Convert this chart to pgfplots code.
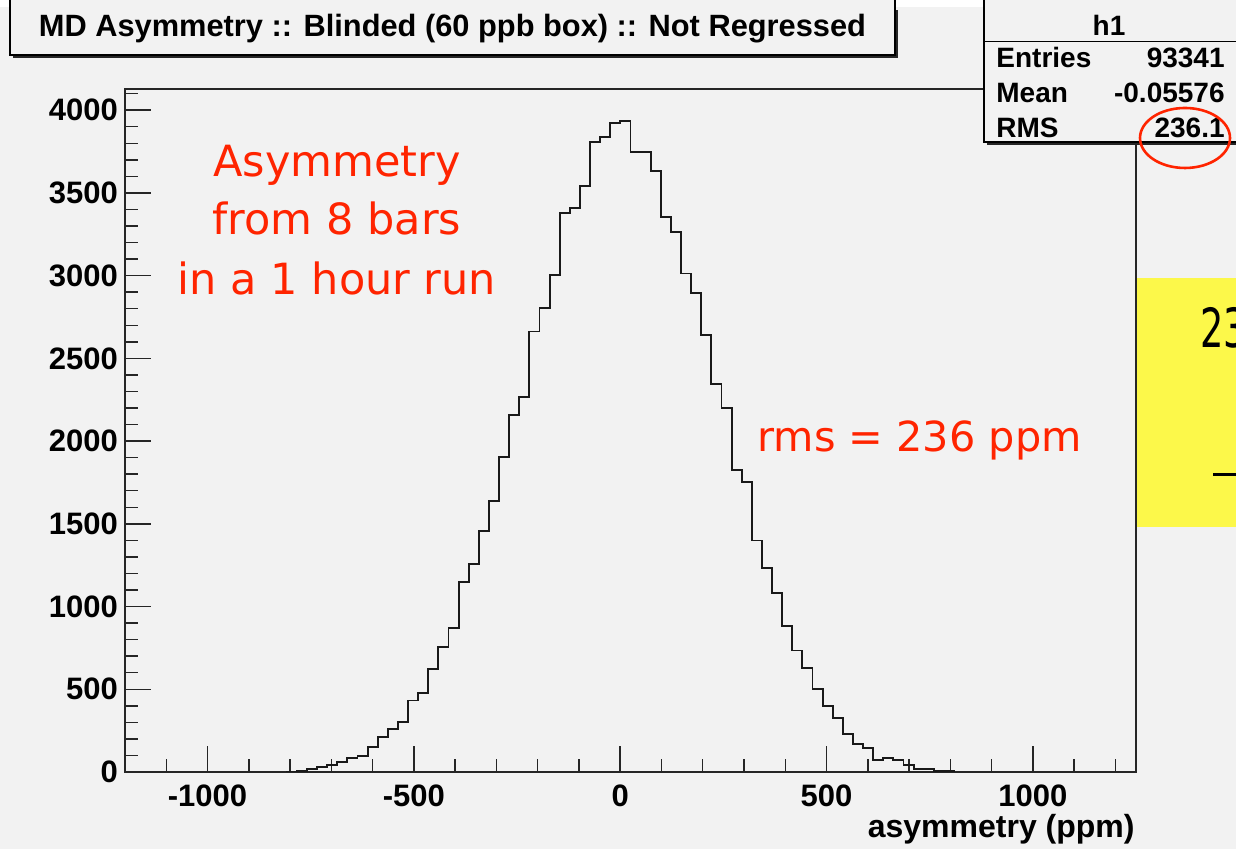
\documentclass[border=0pt]{standalone}
\usepackage{pgfplots}
\pgfplotsset{compat=1.18}
\usepackage{pgfplotstable}
\usepackage{fontspec}
\setmainfont{Liberation Sans}
\newfontfamily\hand{DejaVu Sans}
\definecolor{bg}{RGB}{242,242,242}
\definecolor{annred}{RGB}{255,36,0}
\definecolor{ylw}{RGB}{252,248,74}

\pgfplotstableread{
x y
-808 0
-808 3
-783.5 4
-759 16
-734.5 28
-710 40
-685.5 60
-661 85
-636.5 95
-612 149
-587.5 214
-563 258
-538.5 300
-514 432
-489.5 476
-465 621
-440.5 754
-416 873
-391.5 1147
-367 1256
-342.5 1457
-318 1640
-293.5 1903
-269 2158
-244.5 2269
-220 2662
-195.5 2803
-171 3005
-146.5 3376
-122 3408
-97.5 3539
-73 3805
-48.5 3837
-24 3924
0.5 3934
25 3747
49.5 3747
74 3630
98.5 3354
123 3263
147.5 3013
172 2896
196.5 2640
221 2344
245.5 2199
270 1826
294.5 1751
319 1399
343.5 1231
368 1080
392.5 883
417 734
441.5 631
466 500
490.5 401
515 325
539.5 228
564 171
588.5 147
613 73
637.5 83
662 73
686.5 44
711 16
735.5 16
760 5
784.5 4
809 0
}\hist

\begin{document}
\begin{tikzpicture}
\useasboundingbox (0,0) rectangle (618pt,424.5pt);
\begin{scope}[x=0.5pt,y=-0.5pt,yshift=424.5pt]
\fill[bg] (0,0) rectangle (1236,849);
\fill[white] (0,0) rectangle (1236,7);
% title box
\fill[black!85] (13,10) rectangle (898,58);
\filldraw[fill=bg, draw=black, line width=0.6pt] (10,-5) rectangle (895,55);
\node[font=\bfseries\fontsize{15.4}{18}\selectfont] at (452.5,29) {MD Asymmetry :: Blinded (60 ppb box) :: Not Regressed};
\end{scope}

\begin{axis}[
  at={(62.5pt,38.5pt)}, anchor=south west,
  scale only axis, width=505.5pt, height=341.5pt,
  xmin=-1200, xmax=1250, ymin=0, ymax=4128,
  xtick={-1000,-500,0,500,1000},
  ytick={0,500,1000,1500,2000,2500,3000,3500,4000},
  minor xtick={-1200,-1100,...,1200},
  minor ytick={0,100,...,4100},
  tick align=inside, tick pos=left,
  major tick length=13pt, minor tick length=6.5pt,
  axis line style={line width=0.75pt, black!85},
  every tick/.style={black!85, line width=0.75pt},
  ticklabel style={font=\bfseries\fontsize{15.5}{18}\selectfont},
  xticklabel style={yshift=-3pt},
  /pgf/number format/assume math mode=true,
  /pgf/number format/1000 sep={},
  scaled ticks=false,
  clip=false,
]
\addplot[const plot, black!90, line width=0.95pt] table[x=x,y=y] {\hist};
\end{axis}

\begin{scope}[x=0.5pt,y=-0.5pt,yshift=424.5pt]
\node[anchor=east, font=\bfseries\fontsize{16}{18}\selectfont, inner sep=0pt] at (1135,829) {asymmetry (ppm)};
% stats box
\fill[black!85] (987,10) rectangle (1250,145);
\filldraw[fill=bg, draw=black, line width=0.6pt] (984,-5) rectangle (1250,142);
\draw[line width=0.6pt] (984,41.7) -- (1250,41.7);
\begin{scope}[font=\bfseries\fontsize{14}{16}\selectfont]
\node at (1109,25) {h1};
\node[anchor=west, inner sep=0pt] at (996,58) {Entries};
\node[anchor=east, inner sep=0pt] at (1225,58) {93341};
\node[anchor=west, inner sep=0pt] at (996,93) {Mean};
\node[anchor=east, inner sep=0pt] at (1225,93) {-0.05576};
\node[anchor=west, inner sep=0pt] at (996,128) {RMS};
\node[anchor=east, inner sep=0pt] at (1225,128) {236.1};
\end{scope}
\draw[annred, line width=1.3pt] (1185,138) ellipse [x radius=22.5pt, y radius=15pt];
% yellow box
\fill[ylw] (1137,278) rectangle (1250,527);
\node[anchor=base west, inner sep=0pt, font=\hand\fontsize{27}{30}\selectfont] at (1200,348) {\scalebox{0.68}[1]{236}};
\draw[line width=1.5pt] (1213,475) -- (1250,475);
% red annotations
\begin{scope}[annred, font=\hand\fontsize{21.5}{25}\selectfont]
\node[anchor=base, inner sep=0pt] at (337,177) {Asymmetry};
\node[anchor=base, inner sep=0pt] at (337,235) {from 8 bars};
\node[anchor=base, inner sep=0pt] at (337,295) {in a 1 hour run};
\node[anchor=base west, inner sep=0pt, font=\hand\fontsize{20.7}{25}\selectfont] at (757,452) {rms = 236 ppm};
\end{scope}
\end{scope}
\end{tikzpicture}
\end{document}
